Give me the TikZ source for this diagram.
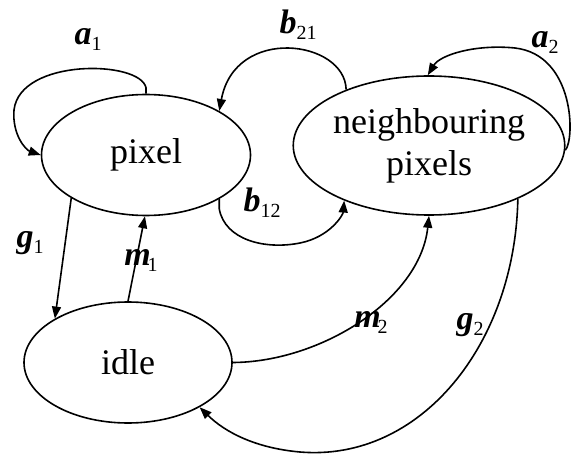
\documentclass[tikz,border=0pt]{standalone}
\usepackage{fontspec}
\setmainfont{Liberation Serif}
\usetikzlibrary{shapes.geometric,arrows.meta}
\newcommand\ratelbl[2]{{\fontsize{34}{34}\selectfont\bfseries\itshape #1}\raisebox{-6pt}{\fontsize{20}{20}\selectfont #2}}
\newcommand\ratelblm[2]{{\fontsize{34}{34}\selectfont\bfseries\itshape #1}\kern-3pt\raisebox{-6pt}{\fontsize{20}{20}\selectfont #2}}
\tikzset{
  state/.style={ellipse, draw, line width=1.6pt, inner sep=0pt,
    font=\fontsize{36}{42}\selectfont, align=center},
  trans/.style={line width=1.6pt, -{Triangle[length=12pt,width=9pt]}},
  rate/.style={inner sep=0pt}
}
\begin{document}
\begin{tikzpicture}[x=1pt,y=-1pt]
\useasboundingbox (0,0) rectangle (572,454);

% states
\node[state, minimum width=209pt, minimum height=121pt] (pixel) at (146,155) {pixel};
\node[state, minimum width=228pt, minimum height=139pt] (nb) at (429,145.5) {neighbouring\\pixels};
\node[state, minimum width=208pt, minimum height=121pt] (idle) at (128,362.5) {idle};

% self loops
\draw[trans] (pixel.90) -- ++(0,-6) .. controls (140,60) and (20,58) .. (14,110)
  .. controls (12,135) and (26,150) .. (pixel.180);
\draw[trans] (nb.-2) .. controls (575,140) and (575,55) .. (515,48)
  .. controls (475,44) and (440,55) .. (nb.91);

% exchange between pixel and its neighbours
\draw[trans] (nb.146) .. controls (345,40) and (235,25) .. (pixel.31);
\draw[trans] (pixel.-31) -- ++(0,10) .. controls (225,240) and (265,250) .. (300,243)
  .. controls (330,237) and (343,215) .. (nb.213);

% transitions with the idle state
\draw[trans] (pixel.210) -- (idle.149);
\draw[trans] (idle.90) -- (pixel.-91);
\draw[trans] (idle.0) .. controls (320,362) and (420,300) .. (nb.-90);
\draw[trans] (nb.-31) .. controls (515,345) and (420,462) .. (300,452)
  .. controls (255,448) and (225,432) .. (idle.-32);

% rate labels
\node[rate] (ra1) at (88,40) {\ratelbl{a}{1}};
\node[rate] (ra2) at (545,43) {\ratelbl{a}{2}};
\node[rate] (rb21) at (298,25) {\ratelbl{b}{21}};
\node[rate] (rb12) at (262,203) {\ratelbl{b}{12}};
\node[rate] (rg1) at (30,243) {\ratelbl{g}{1}};
\node[rate] (rg2) at (470,325) {\ratelbl{g}{2}};
\node[rate] (rm1) at (141,260) {\ratelblm{m}{1}};
\node[rate] (rm2) at (371,322) {\ratelblm{m}{2}};
\end{tikzpicture}
\end{document}
